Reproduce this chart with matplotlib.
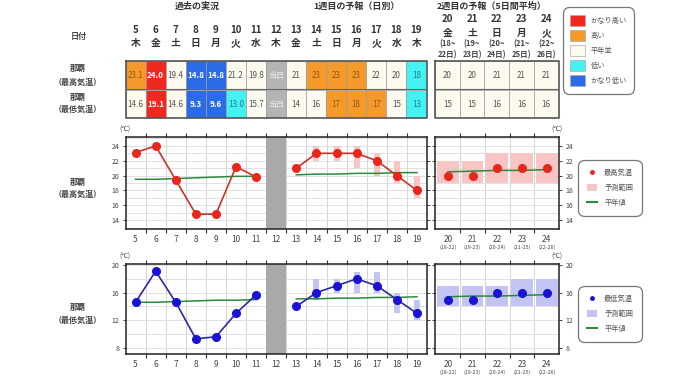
import numpy as np
import matplotlib.pyplot as plt
from matplotlib.patches import Patch
from matplotlib.lines import Line2D

plt.rcParams['font.family'] = ['Noto Sans CJK JP', 'DejaVu Sans']

W, H = 680, 382

# ---- table data
tbl_days = list(range(5, 20))
tbl_week = ['木', '金', '土', '日', '月', '火', '水', '木', '金', '土', '日', '月', '火', '水', '木']
tbl_max = ['23.1', '24.0', '19.4', '14.8', '14.8', '21.2', '19.8', '当日', '21', '23', '23', '23', '22', '20', '18']
tbl_max_cls = ['h', 'vh', 'n', 'vl', 'vl', 'n', 'n', 'x', 'n', 'h', 'h', 'h', 'n', 'n', 'l']
tbl_min = ['14.6', '19.1', '14.6', '9.3', '9.6', '13.0', '15.7', '当日', '14', '16', '17', '18', '17', '15', '13']
tbl_min_cls = ['n', 'vh', 'n', 'vl', 'vl', 'l', 'n', 'x', 'n', 'n', 'h', 'h', 'h', 'n', 'l']

w2_days = [20, 21, 22, 23, 24]
w2_week = ['金', '土', '日', '月', '火']
w2_from = [18, 19, 20, 21, 22]
w2_to = [22, 23, 24, 25, 26]

# ---- chart data
obs_days = [5, 6, 7, 8, 9, 10, 11]
obs_max = [23.1, 24.0, 19.4, 14.8, 14.8, 21.2, 19.8]
obs_min = [14.6, 19.1, 14.6, 9.3, 9.6, 13.0, 15.7]
nrm_obs_max = [19.5, 19.5, 19.6, 19.7, 19.8, 19.9, 19.9]
nrm_obs_min = [14.6, 14.6, 14.7, 14.8, 14.9, 14.9, 15.0]

w1_days = [13, 14, 15, 16, 17, 18, 19]
w1_max = [21, 23, 23, 23, 22, 20, 18]
w1_min = [14, 16, 17, 18, 17, 15, 13]
rng_days = [14, 15, 16, 17, 18, 19]
w1_max_lo = [22, 22, 21, 20, 19, 17]
w1_max_hi = [24, 24, 24, 23, 22, 20]
w1_min_lo = [15, 16, 16, 16, 13, 12]
w1_min_hi = [18, 18, 19, 19, 16, 15]
nrm_w1_max = [20.1, 20.2, 20.2, 20.3, 20.3, 20.4, 20.4]
nrm_w1_min = [15.1, 15.1, 15.2, 15.2, 15.3, 15.3, 15.4]

w2_max = [20, 20, 21, 21, 21]
w2_min = [15, 15, 16, 16, 16]
w2_max_lo = [19, 19, 19, 19, 19]
w2_max_hi = [22, 22, 23, 23, 23]
w2_min_lo = [14, 14, 14, 14, 14]
w2_min_hi = [17, 17, 17, 18, 18]
nrm_w2_max = [20.5, 20.6, 20.7, 20.7, 20.8]
nrm_w2_min = [15.4, 15.5, 15.5, 15.6, 15.7]

cls_face = {'vh': '#f0281e', 'h': '#f59a2a', 'n': '#fcfaee', 'l': '#44f2f2', 'vl': '#2a6ce8', 'x': '#b4b4b4'}
cls_text = {'vh': 'white', 'h': '#8a5a1a', 'n': '#555555', 'l': '#1d7f8f', 'vl': 'white', 'x': '#eeeeee'}
cls_names = [('vh', 'かなり高い'), ('h', '高い'), ('n', '平年並'), ('l', '低い'), ('vl', 'かなり低い')]

RED, RED_LINE, PINK = '#e8261c', '#c8342a', '#f8c4c4'
BLUE, BLUE_LINE, LAV = '#1a12d6', '#2c2a98', '#c4c4f4'
GREEN = '#2a8a3a'
DARK = '#333333'


def px(x0, y0, x1, y1):
    return [x0 / W, 1 - y1 / H, (x1 - x0) / W, (y1 - y0) / H]


fig = plt.figure(figsize=(W / 100, H / 100), dpi=100)
fig.patch.set_facecolor('white')

# ---- section titles & row labels
fig.text(197 / W, 1 - 6 / H, '過去の実況', ha='center', va='center', fontsize=6.5, weight='bold', color=DARK)
fig.text(356 / W, 1 - 6 / H, '1週目の予報（日別）', ha='center', va='center', fontsize=6.5, weight='bold', color=DARK)
fig.text(492 / W, 1 - 6 / H, '2週目の予報（5日間平均）', ha='center', va='center', fontsize=6.5, weight='bold', color=DARK)
fig.text(79 / W, 1 - 36 / H, '日付', ha='center', va='center', fontsize=5.8, weight='bold', color='#444')
for yy, lab in [(68, '那覇'), (82, '（最高気温）'), (97, '那覇'), (109, '（最低気温）'),
                (182, '那覇'), (194, '（最高気温）'), (307, '那覇'), (320, '（最低気温）')]:
    fig.text(78 / W, 1 - yy / H, lab, ha='center', va='center', fontsize=5.8, weight='bold', color='#444')

# ---- table (past + week 1)
ROW = 28.5
tb = fig.add_axes(px(125.5, 61, 426.5, 118))
tb.set_xlim(4.5, 19.5)
tb.set_ylim(2, 0)
tb.axis('off')
for row, (vals, cls) in enumerate([(tbl_max, tbl_max_cls), (tbl_min, tbl_min_cls)]):
    tb.bar(tbl_days, 1, bottom=row, width=1, align='center',
           color=[cls_face[c] for c in cls], edgecolor='#9a9a9a', linewidth=0.5)
    for d, v, c in zip(tbl_days, vals, cls):
        tb.text(d, row + 0.52, v, ha='center', va='center', fontsize=5.8,
                color=cls_text[c], weight='bold' if c in ('vh', 'vl') else 'normal')
tb.plot([4.5, 19.5, 19.5, 4.5, 4.5], [0, 0, 2, 2, 0], color='#555', lw=1.2, clip_on=False)
tb.plot([4.5, 19.5], [1, 1], color='#666', lw=0.8)
for d, wd in zip(tbl_days, tbl_week):
    tb.text(d, (30 - 61) / ROW, str(d), ha='center', va='center', fontsize=7, weight='bold', color=DARK)
    tb.text(d, (43 - 61) / ROW, wd, ha='center', va='center', fontsize=7, weight='bold', color=DARK)

# ---- table week 2
tb2 = fig.add_axes(px(435, 61, 558.5, 118))
tb2.set_xlim(19.5, 24.5)
tb2.set_ylim(2, 0)
tb2.axis('off')
for row, vals in enumerate([w2_max, w2_min]):
    tb2.bar(w2_days, 1, bottom=row, width=1, color=cls_face['n'], edgecolor='#9a9a9a', linewidth=0.5)
    for d, v in zip(w2_days, vals):
        tb2.text(d, row + 0.52, str(v), ha='center', va='center', fontsize=5.8, color=cls_text['n'])
tb2.plot([19.5, 24.5, 24.5, 19.5, 19.5], [0, 0, 2, 2, 0], color='#555', lw=1.2, clip_on=False)
tb2.plot([19.5, 24.5], [1, 1], color='#666', lw=0.8)
for d, wd, a, b in zip(w2_days, w2_week, w2_from, w2_to):
    tb2.text(d, (19 - 61) / ROW, str(d), ha='center', va='center', fontsize=7, weight='bold', color=DARK)
    tb2.text(d, (33 - 61) / ROW, wd, ha='center', va='center', fontsize=7, weight='bold', color=DARK)
    tb2.text(d, (44 - 61) / ROW, f'({a}~', ha='center', va='center', fontsize=5.5, weight='bold', color='#444')
    tb2.text(d, (55 - 61) / ROW, f'{b}日)', ha='center', va='center', fontsize=5.5, weight='bold', color='#444')

# ---- top-right class legend
lg = fig.legend(handles=[Patch(facecolor=cls_face[k], edgecolor='#aaa', lw=0.5) for k, _ in cls_names],
                labels=[n for _, n in cls_names], loc='center',
                bbox_to_anchor=(598.5 / W, 1 - 50.5 / H), fontsize=5.2, handlelength=2.0,
                handleheight=2.0, labelspacing=0.55, handletextpad=0.8, borderpad=0.75,
                frameon=True, fancybox=True, labelcolor='#555')
lg.get_frame().set_edgecolor('#555')
lg.get_frame().set_linewidth(0.9)
lg.get_frame().set_boxstyle('round,pad=0.3,rounding_size=0.9')


def style(ax, xlo, xhi, ylim, ymaj, ymin, right):
    ax.set_xlim(xlo, xhi)
    ax.set_ylim(*ylim)
    ax.set_xticks(np.arange(xlo + 0.5, xhi))
    ax.set_xticks(np.arange(xlo + 1, xhi), minor=True)
    ax.set_yticks(ymaj)
    ax.set_yticks(ymin, minor=True)
    ax.tick_params(axis='x', which='major', length=0, labelsize=6, pad=4, colors='#444')
    ax.tick_params(axis='x', which='minor', length=3, direction='out', top=True, bottom=True,
                   width=0.8, color='#333')
    ax.tick_params(axis='y', which='major', length=2.5, direction='out', left=True, right=True,
                   labelleft=not right, labelright=right, labelsize=5, pad=2, width=0.7,
                   colors='#444')
    ax.tick_params(axis='y', which='minor', length=0)
    ax.grid(True, which='minor', axis='x', color='#cfcfcf', lw=0.6)
    ax.grid(True, which='both', axis='y', color='#dcdcdc', lw=0.6)
    ax.set_axisbelow(True)
    for s in ax.spines.values():
        s.set_color('#222')
        s.set_linewidth(1.1)


def chart(y0, y1, ylim, ymaj, ymin, obs, nrm_obs, w1, w1_lo, w1_hi, nrm_w1,
          w2, w2_lo, w2_hi, nrm_w2, mc, lc, fc, name):
    ax = fig.add_axes(px(125.5, y0, 427, y1))
    style(ax, 4.5, 19.5, ylim, ymaj, ymin, False)
    ax.set_xticklabels([str(d) for d in range(5, 20)])
    ax.axvspan(11.5, 12.5, color='#a9a9a9', zorder=2, lw=0)
    ax.bar(rng_days, np.array(w1_hi) - np.array(w1_lo), bottom=w1_lo, width=0.3,
           color=fc, zorder=2)
    ax.plot(obs_days, nrm_obs, color=GREEN, lw=1.1, zorder=3)
    ax.plot(w1_days, nrm_w1, color=GREEN, lw=1.1, zorder=3)
    ax.plot(obs_days, obs, color=lc, lw=1.2, marker='o', ms=5.5, mfc=mc, mec=mc, zorder=4)
    ax.plot(w1_days, w1, color=lc, lw=1.2, marker='o', ms=5.5, mfc=mc, mec=mc, zorder=4)

    a2 = fig.add_axes(px(435.5, y0, 559, y1))
    style(a2, 19.5, 24.5, ylim, ymaj, ymin, True)
    a2.set_xticklabels([str(d) for d in w2_days])
    a2.bar(w2_days, np.array(w2_hi) - np.array(w2_lo), bottom=w2_lo, width=0.88,
           color=fc, zorder=2)
    a2.plot(w2_days, nrm_w2, color=GREEN, lw=1.1, zorder=3)
    a2.plot(w2_days, w2, ls='', marker='o', ms=5.5, mfc=mc, mec=mc, zorder=4)
    for d, a, b in zip(w2_days, w2_from, w2_to):
        a2.text(d, -0.2, f'({a}-{b})', transform=a2.get_xaxis_transform(),
                ha='center', va='center', fontsize=3.8, color='#444')

    fig.text(125 / W, 1 - (y0 - 7) / H, '(℃)', ha='center', va='center', fontsize=4.8, color='#444')
    fig.text(557 / W, 1 - (y0 - 7) / H, '(℃)', ha='center', va='center', fontsize=4.8, color='#444')

    leg = fig.legend(handles=[Line2D([], [], ls='', marker='o', ms=2.5, mfc=mc, mec=mc),
                              Patch(facecolor=fc, edgecolor='none'),
                              Line2D([], [], color=GREEN, lw=1.5)],
                     labels=[name, '予測範囲', '平年値'], loc='center',
                     bbox_to_anchor=(610 / W, 1 - ((y0 + y1) / 2 + 5) / H),
                     fontsize=5.2, handlelength=1.4, handleheight=1.2, labelspacing=1.0,
                     handletextpad=1.0, borderpad=0.9, frameon=True, fancybox=True,
                     labelcolor='#555')
    leg.get_frame().set_edgecolor('#555')
    leg.get_frame().set_linewidth(0.9)
    leg.get_frame().set_boxstyle('round,pad=0.3,rounding_size=0.9')


chart(137, 229, (12.8, 25.2), [14, 16, 18, 20, 22, 24], [13, 15, 17, 19, 21, 23, 25],
      obs_max, nrm_obs_max, w1_max, w1_max_lo, w1_max_hi, nrm_w1_max,
      w2_max, w2_max_lo, w2_max_hi, nrm_w2_max, RED, RED_LINE, PINK, '最高気温')
chart(264, 354, (7.1, 20.15), [8, 12, 16, 20], [10, 14, 18],
      obs_min, nrm_obs_min, w1_min, w1_min_lo, w1_min_hi, nrm_w1_min,
      w2_min, w2_min_lo, w2_min_hi, nrm_w2_min, BLUE, BLUE_LINE, LAV, '最低気温')

fig.savefig('out.png', dpi=100, facecolor='white')
